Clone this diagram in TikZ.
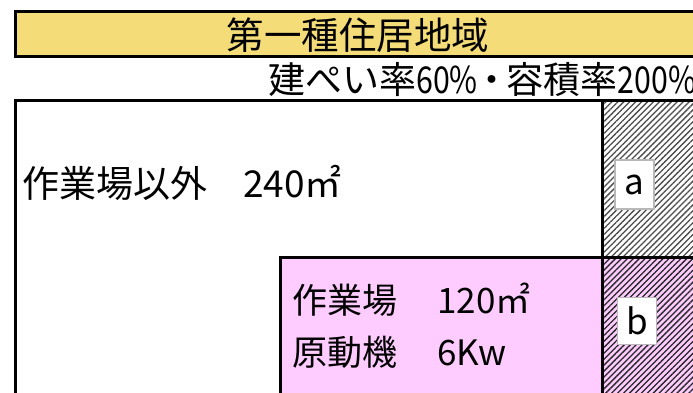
\documentclass[tikz,border=0pt]{standalone}
\usepackage{fontspec}
\setmainfont{Noto Sans CJK JP}
\newfontfamily\narrowdigits[FakeStretch=0.82]{Noto Sans CJK JP}
\usetikzlibrary{patterns.meta}
\definecolor{hdr}{HTML}{F4DC78}
\definecolor{pinkz}{HTML}{FFCCFF}
\tikzset{
  frame/.style={line width=3pt, draw=black},
  txt/.style={inner sep=0pt, anchor=west, font=\fontsize{35}{40}\selectfont},
  tag/.style={draw=black!28, line width=1.8pt, fill=white, minimum width=39pt, minimum height=49pt, inner sep=0pt, font=\fontsize{35}{40}\selectfont},
  hatch/.style={pattern={Lines[angle=45,distance=4.2pt,line width=1.3pt]}},
}
\begin{document}
\begin{tikzpicture}[x=1pt,y=-1pt]
\useasboundingbox (0,0) rectangle (693,393);
% header
\draw[frame, fill=hdr] (15,12) rectangle (710,57);
\node[inner sep=0pt, font=\fontsize{37.5}{40}\selectfont] (title) at (358,35) {第一種住居地域};
\node[inner sep=0pt, anchor=west, font=\fontsize{37}{40}\selectfont] (sub) at (268,80) {建ぺい率{\narrowdigits 60\%}\makebox[29pt]{・}容積率{\narrowdigits 200\%}};
% hatched column
\fill[white] (602,101) rectangle (710,257);
\fill[hatch, pattern color=black!70] (602,101) rectangle (710,257);
\fill[pinkz] (280,257) rectangle (710,400);
\fill[hatch, pattern color=black!85] (602,257) rectangle (710,400);
% frame lines
\draw[frame] (15,400) -- (15,101) -- (710,101);
\draw[frame] (602,101) -- (602,400);
\draw[frame] (280,400) -- (280,257) -- (710,257);
% texts
\node[txt, font=\fontsize{37}{40}\selectfont] (outside) at (22,183) {作業場以外\hspace{36pt}240㎡};
\node[txt] (work) at (292,300) {作業場\hspace{40pt}120㎡};
\node[txt] (motor) at (292,352) {原動機\hspace{40pt}6Kw};
% labels
\node[tag] (a) at (634.5,184.5) {a};
\node[tag, minimum height=47pt] (b) at (637,321) {b};
\end{tikzpicture}
\end{document}
